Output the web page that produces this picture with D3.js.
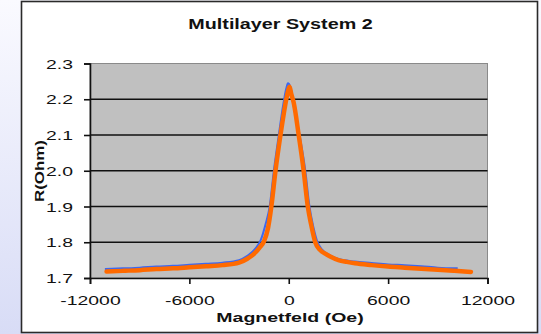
<!DOCTYPE html>
<html>
<head>
<meta charset="utf-8">
<script src="https://cdn.jsdelivr.net/npm/d3@7"></script>
<style>
  html, body { margin: 0; padding: 0; background: #fff; }
  svg { display: block; }
  text { font-family: "Liberation Sans", Arial, Helvetica, sans-serif; fill: #111; }
</style>
</head>
<body>
<svg id="chart" width="541" height="334"></svg>
<script>
// Magnetoresistance of multilayer system 2: field (Oe) vs resistance (Ohm)
const chartTitle = "Multilayer System 2";
const xTitle = "Magnetfeld (Oe)";
const yTitle = "R(Ohm)";

const xTicks = [-12000, -6000, 0, 6000, 12000];
const xTickLabels = ["-12000", "-6000", "0", "6000", "12000"];
const yTicks = [1.7, 1.8, 1.9, 2.0, 2.1, 2.2, 2.3];
const yTickLabels = ["1.7", "1.8", "1.9", "2.0", "2.1", "2.2", "2.3"];

// sweep 1 (blue)
const blueField = [-11100, -10000, -9000, -8000, -7000, -6000, -5000, -4000, -3000, -2500, -2000, -1700,
  -1400, -1150, -900, -600, -350, -150, -50, 100, 300, 650, 1000, 1250, 1500, 1700, 2000, 2500,
  3000, 4000, 5000, 6000, 7000, 8000, 9000, 10200];
const blueR = [1.725, 1.727, 1.729, 1.732, 1.734, 1.737, 1.740, 1.743, 1.750, 1.762, 1.783, 1.805,
  1.850, 1.900, 2.000, 2.100, 2.180, 2.230, 2.245, 2.235, 2.180, 2.100, 2.000, 1.900, 1.840, 1.805, 1.780, 1.763,
  1.753, 1.746, 1.742, 1.738, 1.736, 1.733, 1.729, 1.727];

// sweep 2 (orange)
const orangeField = [-11000, -10000, -9000, -8000, -7000, -6000, -5000, -4000, -3000, -2500, -2300, -2000,
  -1750, -1500, -1250, -1050, -800, -500, -300, -150, 0, 50, 150, 300, 600, 900, 1150, 1350, 1600,
  1900, 2200, 2500, 3000, 3500, 4000, 5000, 6000, 7000, 8000, 9000, 10000, 11000];
const orangeR = [1.718, 1.720, 1.722, 1.725, 1.727, 1.730, 1.733, 1.736, 1.743, 1.754, 1.760, 1.772,
  1.786, 1.802, 1.840, 1.900, 2.000, 2.100, 2.160, 2.200, 2.230, 2.235, 2.215, 2.190, 2.100, 2.000, 1.900, 1.850, 1.800,
  1.778, 1.768, 1.760, 1.750, 1.745, 1.741, 1.736, 1.732, 1.729, 1.726, 1.723, 1.720, 1.717];

const svg = d3.select("#chart");
const W = 541, H = 334;

// page backdrop
const defs = svg.append("defs");
const grad = defs.append("linearGradient").attr("id", "bg").attr("x1", 0).attr("y1", 0).attr("x2", 0).attr("y2", 1);
grad.append("stop").attr("offset", "0%").attr("stop-color", "#fafaff");
grad.append("stop").attr("offset", "100%").attr("stop-color", "#d8dcf6");
svg.append("rect").attr("width", W).attr("height", H).attr("fill", "url(#bg)");

// chart panel
svg.append("rect")
  .attr("x", 21.5).attr("y", 1.5).attr("width", 516).attr("height", 331)
  .attr("fill", "#fff").attr("stroke", "#2a2a2a").attr("stroke-width", 1.6);

const x = d3.scaleLinear().domain([-12000, 12000]).range([90, 487.5]);
const y = d3.scaleLinear().domain([1.7, 2.3]).range([278, 63.5]);

// stretch a text element along its own direction by factor k
function stretch(sel, k) {
  sel.each(function () {
    const w = this.getComputedTextLength();
    d3.select(this).attr("textLength", w * k).attr("lengthAdjust", "spacingAndGlyphs");
  });
}

// plot area
svg.append("rect")
  .attr("x", x(-12000)).attr("y", y(2.3))
  .attr("width", x(12000) - x(-12000)).attr("height", y(1.7) - y(2.3))
  .attr("fill", "#c0c0c0").attr("stroke", "#8a8a8a").attr("stroke-width", 1);

// gridlines
svg.append("g").selectAll("line")
  .data(yTicks.filter(v => v > 1.7 && v < 2.3))
  .join("line")
  .attr("x1", x(-12000)).attr("x2", x(12000))
  .attr("y1", d => y(d)).attr("y2", d => y(d))
  .attr("stroke", "#111").attr("stroke-width", 1.6);

// series
const line = d3.line().curve(d3.curveMonotoneX).x(d => x(d[0])).y(d => y(d[1]));
svg.append("path")
  .datum(d3.zip(blueField, blueR))
  .attr("d", line)
  .attr("fill", "none").attr("stroke", "#3d68f0").attr("stroke-width", 2)
  .attr("stroke-linejoin", "round");
svg.append("path")
  .datum(d3.zip(orangeField, orangeR))
  .attr("d", line)
  .attr("fill", "none").attr("stroke", "#ff6a00").attr("stroke-width", 4.5)
  .attr("stroke-linejoin", "round").attr("stroke-linecap", "round");

// axes
const yAxis = svg.append("g")
  .attr("transform", `translate(${x(-12000)},0)`)
  .call(d3.axisLeft(y).tickValues(yTicks).tickFormat((d, i) => yTickLabels[i]).tickSize(6).tickPadding(11));
const xAxis = svg.append("g")
  .attr("transform", `translate(0,${y(1.7)})`)
  .call(d3.axisBottom(x).tickValues(xTicks).tickFormat((d, i) => xTickLabels[i]).tickSize(6).tickPadding(12));

[yAxis, xAxis].forEach(g => {
  g.select(".domain").attr("stroke", "#111").attr("stroke-width", 1.6);
  g.selectAll(".tick line").attr("stroke", "#111").attr("stroke-width", 1.6);
  g.selectAll(".tick text").attr("font-size", 12.5).attr("fill", "#111");
});
yAxis.selectAll(".tick text").attr("dy", "0.36em");
xAxis.selectAll(".tick text").attr("dy", "0.71em");
stretch(yAxis.selectAll(".tick text"), 1.55);
stretch(xAxis.selectAll(".tick text"), 1.55);

// titles
const t = svg.append("text")
  .attr("x", 280.5).attr("y", 29).attr("text-anchor", "middle")
  .attr("font-size", 14).attr("font-weight", "bold")
  .text(chartTitle);
stretch(t, 1.41);

const xt = svg.append("text")
  .attr("x", 290).attr("y", 322).attr("text-anchor", "middle")
  .attr("font-size", 13).attr("font-weight", "bold")
  .text(xTitle);
stretch(xt, 1.5);

const yt = svg.append("text")
  .attr("transform", "translate(44,171) rotate(-90)")
  .attr("text-anchor", "middle")
  .attr("font-size", 13).attr("font-weight", "bold")
  .text(yTitle);
stretch(yt, 1.3);
</script>
</body>
</html>
